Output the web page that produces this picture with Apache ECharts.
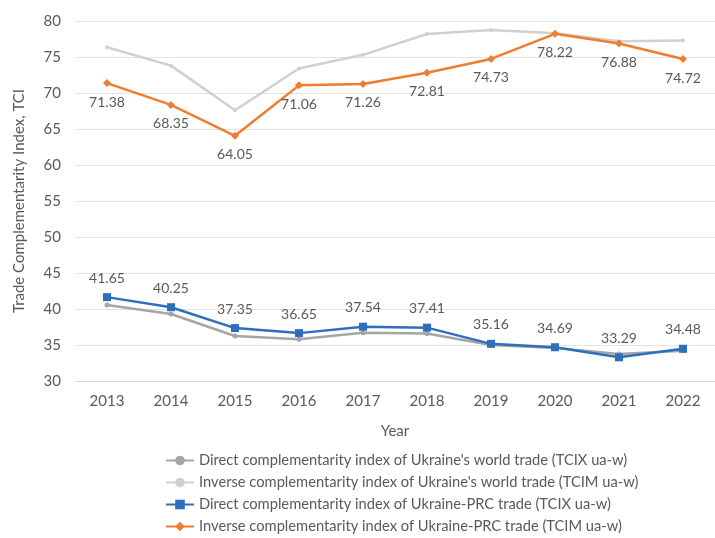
<!DOCTYPE html>
<html><head><meta charset="utf-8">
<script src="https://cdn.jsdelivr.net/npm/echarts@6/dist/echarts.min.js"></script>
<style>html,body{margin:0;padding:0;background:#fff}#c{width:715px;height:538px}</style>
</head><body><div id="c"></div>
<script>
const years = ['2013','2014','2015','2016','2017','2018','2019','2020','2021','2022'];
const tcixWorld = [40.55, 39.3, 36.25, 35.8, 36.7, 36.6, 35.0, 34.6, 33.75, 34.2];
const tcimWorld = [76.35, 73.8, 67.6, 73.4, 75.3, 78.2, 78.75, 78.3, 77.2, 77.3];
const tcixPRC = [41.65, 40.25, 37.35, 36.65, 37.54, 37.41, 35.16, 34.69, 33.29, 34.48];
const tcimPRC = [71.38, 68.35, 64.05, 71.06, 71.26, 72.81, 74.73, 78.22, 76.88, 74.72];
const names = [
  "Direct complementarity index of Ukraine's world trade (TCIX ua-w)",
  "Inverse complementarity index of Ukraine's world trade (TCIM ua-w)",
  "Direct complementarity index of Ukraine-PRC trade (TCIX ua-w)",
  "Inverse complementarity index of Ukraine-PRC trade (TCIM ua-w)"
];
const font = 'Lato, "Open Sans", sans-serif';
const chart = echarts.init(document.getElementById('c'));
chart.setOption({
  animation: false,
  textStyle: {fontFamily: font},
  grid: {left: 75, top: 21, width: 648, height: 360, containLabel: false},
  legend: {
    orient: 'vertical', left: 165, top: 453, padding: 0, itemGap: 7, itemWidth: 28, itemHeight: 12,
    height: 100,
    textStyle: {fontSize: 14.7, color: '#595959', fontFamily: font},
    data: names
  },
  xAxis: {
    type: 'category', data: years, boundaryGap: true,
    name: 'Year', nameLocation: 'middle', nameGap: 43,
    nameTextStyle: {fontSize: 15, color: '#595959'},
    axisLine: {show: true, lineStyle: {color: '#D9D9D9'}},
    axisTick: {show: false},
    axisLabel: {fontSize: 15, color: '#595959', margin: 13}
  },
  yAxis: {
    type: 'value', min: 30, max: 80, interval: 5,
    name: 'Trade Complementarity Index, TCI', nameLocation: 'middle', nameGap: 48,
    nameTextStyle: {fontSize: 15, color: '#595959'},
    axisLine: {show: false}, axisTick: {show: false},
    axisLabel: {fontSize: 15, color: '#595959', margin: 14},
    splitLine: {lineStyle: {color: '#E3E3E3'}}
  },
  series: [
    {name: names[0], type: 'line', data: tcixWorld, symbol: 'circle', symbolSize: 5,
     lineStyle: {color: '#A5A5A5', width: 2.5}, itemStyle: {color: '#A5A5A5'}, z: 2},
    {name: names[1], type: 'line', data: tcimWorld, symbol: 'circle', symbolSize: 4,
     lineStyle: {color: '#D0D0D0', width: 2.5}, itemStyle: {color: '#D0D0D0'}, z: 2},
    {name: names[2], type: 'line', data: tcixPRC, symbol: 'rect', symbolSize: 8,
     lineStyle: {color: '#2E6FBD', width: 2.5}, itemStyle: {color: '#2E6FBD'}, z: 3,
     label: {show: true, position: 'top', distance: 8, fontSize: 14, color: '#595959',
       formatter: p => p.value.toFixed(2)}},
    {name: names[3], type: 'line', data: tcimPRC, symbol: 'diamond', symbolSize: 8,
     lineStyle: {color: '#ED7D31', width: 2.5}, itemStyle: {color: '#ED7D31'}, z: 3,
     label: {show: true, position: 'bottom', distance: 8, fontSize: 14, color: '#595959',
       formatter: p => p.value.toFixed(2)}}
  ]
});
</script></body></html>
